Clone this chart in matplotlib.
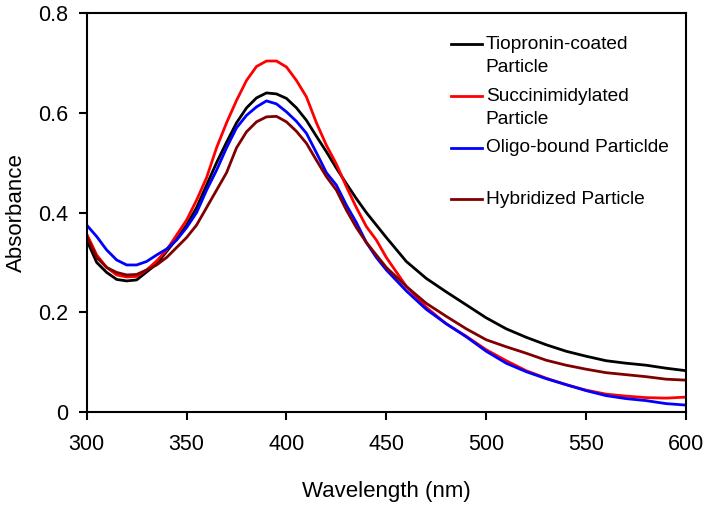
import matplotlib.pyplot as plt
from matplotlib.lines import Line2D
from matplotlib.ticker import FuncFormatter

plt.rcParams['font.family'] = ['Liberation Sans', 'DejaVu Sans']

wavelength = [300, 305, 310, 315, 320, 325, 330, 335, 340, 345, 350, 355, 360, 365,
              370, 375, 380, 385, 390, 395, 400, 405, 410, 415, 420, 425, 430, 435,
              440, 445, 450, 460, 470, 480, 490, 500, 510, 520, 530, 540, 550, 560,
              570, 580, 590, 600]

tiopronin = [0.345, 0.300, 0.280, 0.266, 0.263, 0.265, 0.281, 0.297, 0.322, 0.347,
             0.375, 0.410, 0.455, 0.500, 0.541, 0.580, 0.610, 0.630, 0.640, 0.638,
             0.629, 0.610, 0.585, 0.553, 0.522, 0.489, 0.458, 0.428, 0.400, 0.375,
             0.350, 0.302, 0.268, 0.241, 0.215, 0.189, 0.167, 0.150, 0.135, 0.122,
             0.112, 0.103, 0.098, 0.094, 0.088, 0.083]

succinimidylated = [0.357, 0.315, 0.290, 0.275, 0.271, 0.272, 0.285, 0.303, 0.325, 0.355,
                    0.385, 0.425, 0.470, 0.530, 0.580, 0.625, 0.665, 0.693, 0.704, 0.704,
                    0.692, 0.665, 0.632, 0.580, 0.535, 0.497, 0.452, 0.410, 0.372, 0.345,
                    0.310, 0.252, 0.210, 0.177, 0.152, 0.125, 0.103, 0.083, 0.068, 0.055,
                    0.044, 0.036, 0.032, 0.029, 0.028, 0.030]

oligo_bound = [0.375, 0.352, 0.325, 0.305, 0.295, 0.295, 0.302, 0.315, 0.327, 0.345,
               0.370, 0.400, 0.445, 0.485, 0.530, 0.570, 0.595, 0.612, 0.624, 0.618,
               0.602, 0.583, 0.559, 0.520, 0.480, 0.455, 0.415, 0.380, 0.340, 0.310,
               0.285, 0.243, 0.206, 0.177, 0.151, 0.122, 0.098, 0.081, 0.067, 0.055,
               0.043, 0.033, 0.027, 0.023, 0.017, 0.014]

hybridized = [0.352, 0.310, 0.290, 0.280, 0.275, 0.276, 0.285, 0.295, 0.310, 0.330,
              0.350, 0.375, 0.410, 0.445, 0.480, 0.530, 0.562, 0.582, 0.592, 0.593,
              0.582, 0.563, 0.539, 0.505, 0.472, 0.445, 0.405, 0.370, 0.340, 0.315,
              0.290, 0.252, 0.218, 0.192, 0.167, 0.145, 0.131, 0.118, 0.104, 0.094,
              0.086, 0.079, 0.075, 0.071, 0.066, 0.064]

series = [
    ('Tiopronin-coated\nParticle', tiopronin, 'black'),
    ('Succinimidylated\nParticle', succinimidylated, '#ff0000'),
    ('Oligo-bound Particlde', oligo_bound, '#0000ff'),
    ('Hybridized Particle', hybridized, '#800000'),
]

fig = plt.figure(figsize=(7.05, 5.05), dpi=100)
ax = fig.add_axes([0.123, 0.184, 0.850, 0.790])

for label, values, color in series:
    ax.plot(wavelength, values, color=color, lw=2.0)

ax.set_xlim(300, 600)
ax.set_ylim(0, 0.8)
ax.set_xticks([300, 350, 400, 450, 500, 550, 600])
ax.set_yticks([0, 0.2, 0.4, 0.6, 0.8])
ax.yaxis.set_major_formatter(FuncFormatter(lambda v, p: '0' if v == 0 else f'{v:.1f}'))
ax.tick_params(direction='out', length=5.5, width=1.5, labelsize=15.5,
               top=False, right=False)
ax.tick_params(axis='x', pad=10)
ax.tick_params(axis='y', pad=8)
for s in ax.spines.values():
    s.set_linewidth(1.5)

ax.set_xlabel('Wavelength (nm)', fontsize=16, labelpad=19)
ax.set_ylabel('Absorbance', fontsize=16, labelpad=8)

# legend drawn by hand so the line sits on the first text line
entry_y = [0.922, 0.792, 0.662, 0.534]
line_step = 0.0576
for (label, values, color), y in zip(series, entry_y):
    ax.add_line(Line2D([0.608, 0.659], [y, y], color=color, lw=2.0,
                       transform=ax.transAxes))
    for i, part in enumerate(label.split('\n')):
        ax.text(0.666, y - i * line_step, part, transform=ax.transAxes,
                fontsize=13.8, va='center', ha='left')

fig.savefig('out.png', dpi=100)
